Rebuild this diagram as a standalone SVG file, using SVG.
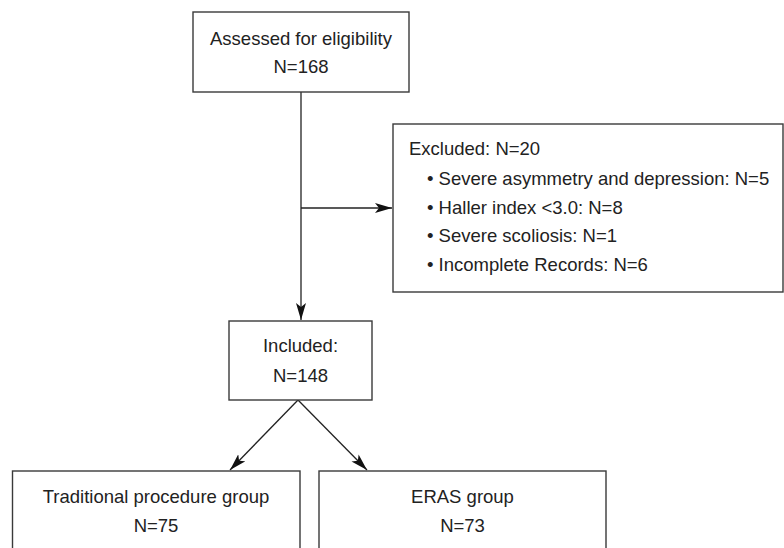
<svg xmlns="http://www.w3.org/2000/svg" width="784" height="548" viewBox="0 0 784 548">
<style>
.box{fill:#fff;stroke:#3a3a3a;stroke-width:1.4}
.t{font-family:"Liberation Sans",Arial,sans-serif;font-size:18.5px;fill:#222}
.c{text-anchor:middle}
.ln{stroke:#222;stroke-width:1.3;fill:none}
</style>
<defs>
<marker id="ah" markerUnits="userSpaceOnUse" markerWidth="18" markerHeight="12" refX="17" refY="5" orient="auto">
<path d="M0,0 L17,5 L0,10 L4,5 z" fill="#111"/>
</marker>
</defs>
<rect width="784" height="548" fill="#fff"/>
<g id="connectors">
<line class="ln" x1="301" y1="92" x2="301" y2="320" marker-end="url(#ah)"/>
<line class="ln" x1="301" y1="208" x2="392" y2="208" marker-end="url(#ah)"/>
<line class="ln" x1="298" y1="400" x2="230" y2="470" marker-end="url(#ah)"/>
<line class="ln" x1="298" y1="400" x2="367" y2="470" marker-end="url(#ah)"/>
</g>
<g id="assessed">
<rect class="box" x="193" y="12" width="216" height="80"/>
<text class="t c" x="301" y="45">Assessed for eligibility</text>
<text class="t c" x="301" y="73">N=168</text>
</g>
<g id="excluded">
<rect class="box" x="393" y="124" width="390" height="168"/>
<text class="t" x="409" y="155">Excluded: N=20</text>
<text class="t" x="427" y="185">• Severe asymmetry and depression: N=5</text>
<text class="t" x="427" y="214">• Haller index &lt;3.0: N=8</text>
<text class="t" x="427" y="242">• Severe scoliosis: N=1</text>
<text class="t" x="427" y="271">• Incomplete Records: N=6</text>
</g>
<g id="included">
<rect class="box" x="229" y="321" width="143" height="79"/>
<text class="t c" x="300.5" y="352">Included:</text>
<text class="t c" x="300.5" y="382">N=148</text>
</g>
<g id="traditional">
<rect class="box" x="12.5" y="471" width="287.5" height="100"/>
<text class="t c" x="156" y="503">Traditional procedure group</text>
<text class="t c" x="156" y="532">N=75</text>
</g>
<g id="eras">
<rect class="box" x="319" y="471" width="287" height="100"/>
<text class="t c" x="462.5" y="503">ERAS group</text>
<text class="t c" x="462.5" y="532">N=73</text>
</g>
</svg>
